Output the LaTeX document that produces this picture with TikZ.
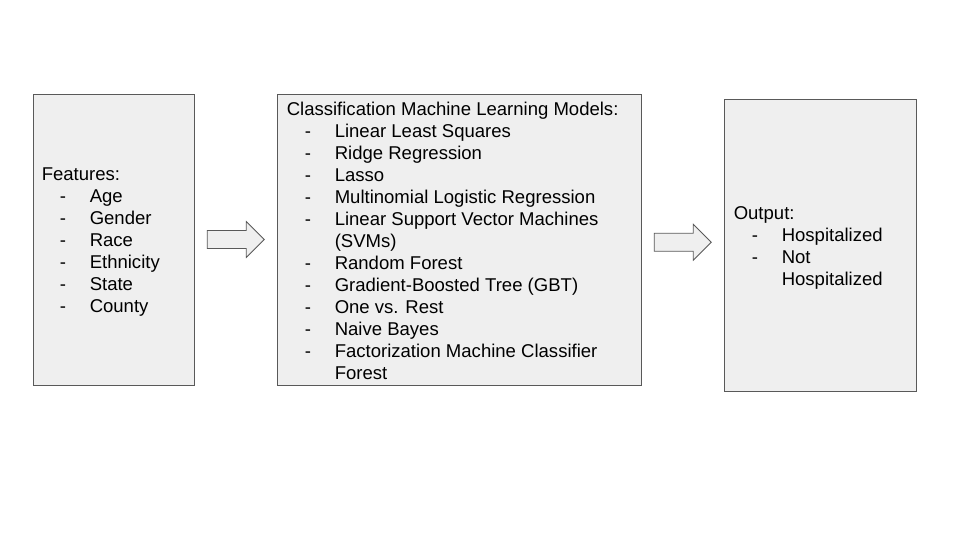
\documentclass[tikz,border=0pt]{standalone}
\usepackage{fontspec}
\setmainfont{Liberation Sans}
\usetikzlibrary{shapes.arrows,calc}
\definecolor{boxfill}{HTML}{EFEFEF}
\definecolor{boxline}{HTML}{595959}
\newcommand{\itm}{\hspace*{13.5pt}\makebox[22.5pt][l]{-}}
\newcommand{\cont}{\hspace*{36pt}}
\tikzset{
  stage/.style={draw=boxline, fill=boxfill, line width=0.75pt, inner sep=0pt},
  stagetext/.style={anchor=west, align=left, inner sep=0pt,
    font=\fontsize{13.9}{16.5}\selectfont},
  flow/.style={single arrow, draw=boxline, fill=boxfill, line width=0.6pt,
    inner sep=0pt, text height=6.4pt, text depth=6.4pt,
    minimum height=42.75pt, minimum width=26.25pt,
    single arrow head extend=6.75pt, xshift=-3.2pt}
}
\begin{document}
\begin{tikzpicture}[x=0.75pt, y=-0.75pt]
  \useasboundingbox (0,0) rectangle (960,540);

  \node[stage, minimum width=120.75pt, minimum height=218.25pt] (inputs) at (113.5,239.5) {};
  \node[stage, minimum width=273pt, minimum height=218.25pt] (models) at (459,239.5) {};
  \node[stage, minimum width=144pt, minimum height=219pt] (outputs) at (820,245) {};

  \node[stagetext] (features) at ([xshift=6.75pt, yshift=-2.25pt]inputs.west) {Features:\\
    \itm Age\\ \itm Gender\\ \itm Race\\ \itm Ethnicity\\ \itm State\\ \itm County};
  \node[stagetext] (modellist) at ([xshift=7.5pt, yshift=-0.75pt]models.west) {Classification Machine Learning Models:\\
    \itm Linear Least Squares\\ \itm Ridge Regression\\ \itm Lasso\\
    \itm Multinomial Logistic Regression\\ \itm Linear Support Vector Machines\\
    \cont (SVMs)\\ \itm Random Forest\\ \itm Gradient-Boosted Tree (GBT)\\
    \itm One vs. Rest\\ \itm Naive Bayes\\ \itm Factorization Machine Classifier\\
    \cont Forest};
  \node[stagetext] (outcome) at ([xshift=7.5pt, yshift=-2.25pt]outputs.west) {Output:\\
    \itm Hospitalized\\ \itm Not\\ \cont Hospitalized};

  \node[flow] (toModels) at ($(inputs.east)!0.5!(models.west)$) {};
  \node[flow] (toOutput) at ($(models.east)!0.5!(outputs.west)$ |- outputs.west) {};
\end{tikzpicture}
\end{document}
